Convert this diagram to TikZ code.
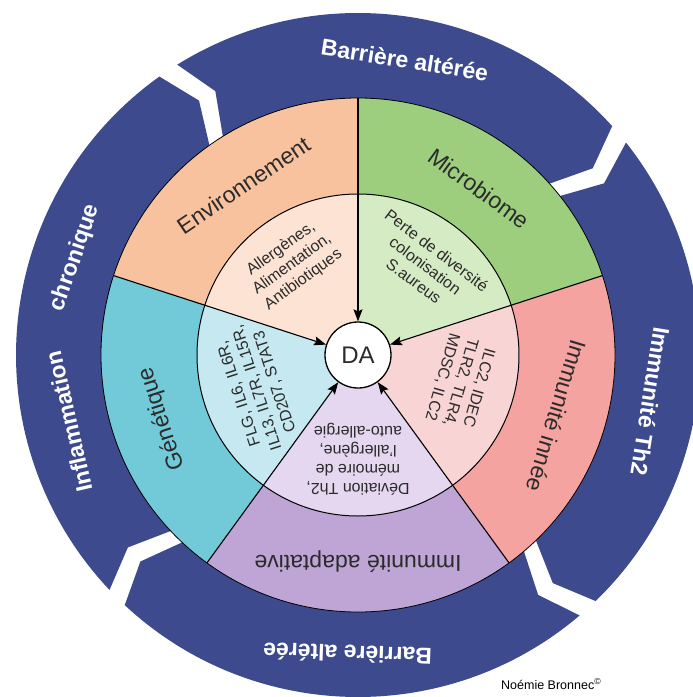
\documentclass[tikz,border=0pt]{standalone}
\usepackage{fontspec}
\setmainfont{Liberation Sans}
\usetikzlibrary{arrows.meta}
\definecolor{ringblue}{HTML}{3D4B8E}
\definecolor{envout}{HTML}{F8C29E}
\definecolor{envin}{HTML}{FCE3D3}
\definecolor{micout}{HTML}{9DCE7E}
\definecolor{micin}{HTML}{D4EBC4}
\definecolor{innout}{HTML}{F5A3A0}
\definecolor{innin}{HTML}{F9D4D4}
\definecolor{adaout}{HTML}{BEA5D5}
\definecolor{adain}{HTML}{E4D7EF}
\definecolor{genout}{HTML}{72CAD8}
\definecolor{genin}{HTML}{C5E8F1}
\definecolor{labelgray}{HTML}{2B2B2B}
\begin{document}
\begin{tikzpicture}[x=1pt,y=1pt,
  ringtext/.style={text=white,font=\fontsize{23}{27}\selectfont\bfseries,inner sep=0pt},
  sectlabel/.style={text=labelgray,font=\fontsize{23}{27}\selectfont,inner sep=0pt},
  sectinner/.style={text=labelgray,font=\fontsize{16}{19}\selectfont,align=center,inner sep=0pt},
  spoke/.style={draw=black,line width=1.1pt,-{Stealth[length=12pt,width=9pt,inset=2pt]}},
  ringseg/.style={fill=ringblue}]
\useasboundingbox (-358,-342) rectangle (335,355);
\clip (-358,-342) rectangle (335,355);
\fill[white] (-358,-342) rectangle (335,355);
% outer ring segments (chevron gaps)
\foreach \t/\l in {223.4/125.5, 121.9/42, 38.4/-46, -49.6/-133}{
  \fill[ringseg] (\t:342) arc[start angle=\t, end angle=\l, radius=342]
    -- ({\l-3.5}:300) -- (\l:255) arc[start angle=\l, end angle=\t, radius=255]
    -- ({\t-3.5}:300) -- cycle;
}
% sectors
\foreach \a/\b/\co/\ci in {90/162/envout/envin, 18/90/micout/micin, -54/18/innout/innin, -126/-54/adaout/adain, 162/234/genout/genin}{
  \fill[\co] (0,0) -- (\a:257) arc[start angle=\a, end angle=\b, radius=257] -- cycle;
  \fill[\ci] (0,0) -- (\a:161) arc[start angle=\a, end angle=\b, radius=161] -- cycle;
}
\draw[line width=0.8pt] (0,0) circle[radius=257];
\draw[line width=1pt] (0,0) circle[radius=161];
% centre
\node[circle,draw,line width=1.3pt,fill=white,minimum size=66pt,inner sep=0pt,
      font=\fontsize{24}{28}\selectfont,text=labelgray] (DA) at (0,0) {DA};
\foreach \a [count=\i] in {90,18,-54,-126,162}{
  \coordinate (s\i) at (\a:257);
  \draw[spoke] (s\i) -- (DA);
}
% ring texts
\node[ringtext,rotate=-9] (rt1) at (81:299) {Barrière altérée};
\node[ringtext,rotate=-99] (rt2) at (-9:296) {Immunité Th2};
\node[ringtext,rotate=178] (rt3) at (-92:299) {Barrière altérée};
\node[ringtext,rotate=103] (rt4) at (193:297) {Inflammation};
\node[ringtext,rotate=71] (rt5) at (161:299) {chronique};
% sector labels
\node[sectlabel,rotate=34] (l1) at (124:205) {Environnement};
\node[sectlabel,rotate=-36] (l2) at (54:206) {Microbiome};
\node[sectlabel,rotate=-107] (l3) at (-17:208) {Immunité innée};
\node[sectlabel,rotate=180] (l4) at (-90:207) {Immunité adaptative};
\node[sectlabel,rotate=108] (l5) at (198:206) {Génétique};
% inner texts
\node[sectinner,rotate=36] (i1) at (126:112) {Allergènes,\\Alimentation,\\Antibiotiques};
\node[sectinner,rotate=-37] (i2) at (53:112) {Perte de diversité\\colonisation\\S.aureus};
\node[sectinner,rotate=-106] (i3) at (-15:106) {ILC2, IDEC\\TLR2, TLR4,\\MDSC, ILC2};
\node[sectinner,rotate=180] (i4) at (-90:104) {Déviation Th2,\\mémoire de\\l'allergène,\\auto-allergie};
\node[sectinner,rotate=108] (i5) at (198:106) {FLG, IL6, IL6R,\\IL13, IL7R, IL15R,\\CD207, STAT3};
% credit
\node[font=\fontsize{12.5}{15}\selectfont,anchor=west,inner sep=0pt] (cr) at (143,-329) {Noémie Bronnec\textsuperscript{©}};
\end{tikzpicture}
\end{document}
